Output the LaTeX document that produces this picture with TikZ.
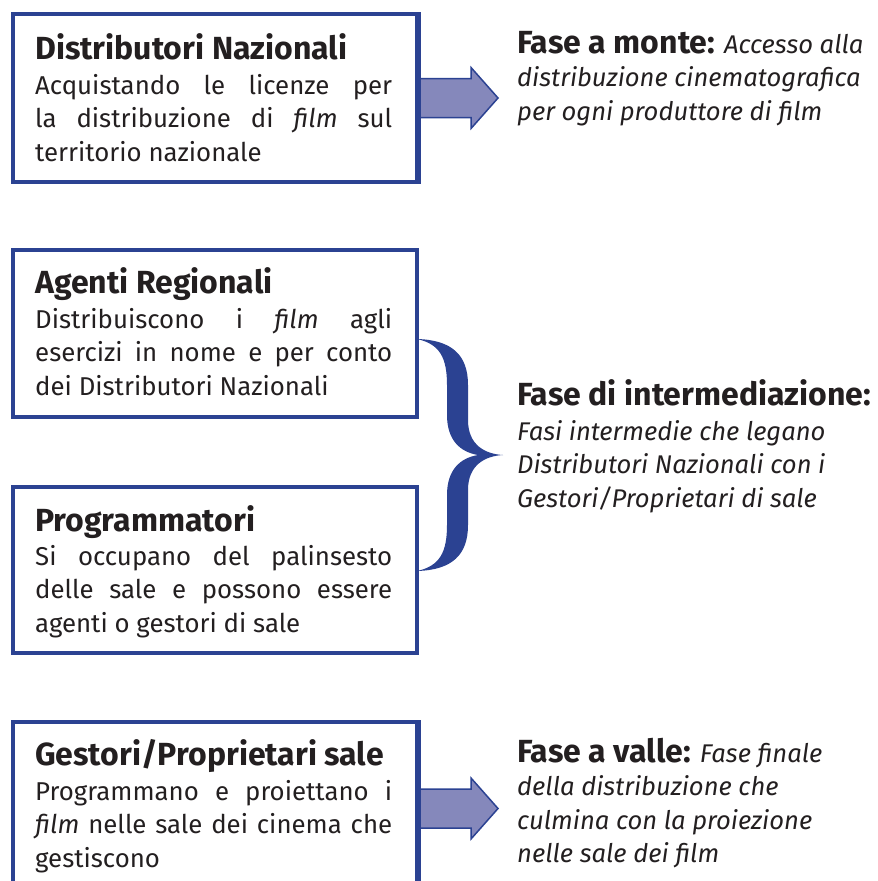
\documentclass[tikz,border=0pt]{standalone}
\usepackage{fontspec}
\setmainfont{Fira Sans}
\definecolor{bordblue}{RGB}{43,66,146}
\definecolor{arrfill}{RGB}{133,136,187}
\definecolor{ink}{RGB}{35,31,32}
\newcommand{\bodyfnt}{\fontsize{25.8}{33.5}\selectfont}
\newcommand{\italfnt}{\fontsize{25.6}{33.5}\selectfont\itshape}
\newcommand{\titlefnt}{\fontsize{32}{33}\selectfont\bfseries}
\newcommand{\jline}[1]{\hbox to 357pt{#1}}
\tikzset{
  boxst/.style={draw=bordblue, line width=4pt, fill=white, inner sep=0pt, anchor=north west, minimum width=404pt},
  titlest/.style={anchor=base west, inner sep=0pt, text=ink, font=\titlefnt},
  bodyst/.style={anchor=base west, inner sep=0pt, text=ink, font=\bodyfnt},
  italst/.style={anchor=base west, inner sep=0pt, text=ink, font=\italfnt},
  arrowst/.style={draw=bordblue, fill=arrfill, line width=1.5pt, line join=miter},
  edgest/.style={draw=bordblue, line width=4pt},
}
\begin{document}
\begin{tikzpicture}[x=1pt,y=-1pt]
\useasboundingbox[fill=white] (0,0) rectangle (878,881);
% boxes
\node[boxst, minimum height=168pt] (b1) at (11,12) {};
\node[boxst, minimum height=167pt] (b2) at (11,248) {};
\node[boxst, minimum height=166pt] (b3) at (11,485) {};
\node[boxst, minimum height=173pt] (b4) at (11,720) {};
% block arrows
\draw[arrowst] ([shift={(0,-19.5)}]b1.east) -- ++(52,0) -- ++(0,-11) -- ++(27,30.5)
  -- ++(-27,30.5) -- ++(0,-11) -- ++(-52,0) -- cycle;
\draw[arrowst] ([shift={(0,-19.5)}]b4.east) -- ++(52,0) -- ++(0,-11) -- ++(27,30.5)
  -- ++(-27,30.5) -- ++(0,-11) -- ++(-52,0) -- cycle;
\draw[edgest] (b1.north east) -- (b1.south east);
\draw[edgest] (b4.north east) -- (b4.south east);
% brace
\fill[bordblue] (417,339) .. controls (452,340) and (468,355) .. (468,385)
  -- (468,420) .. controls (468,445) and (485,454) .. (503,455)
  .. controls (485,456) and (468,465) .. (468,490)
  -- (468,525) .. controls (468,555) and (452,570) .. (417,571)
  .. controls (440,566) and (447,552) .. (447,525)
  -- (447,495) .. controls (447,470) and (460,458) .. (478,455)
  .. controls (460,452) and (447,440) .. (447,415)
  -- (447,385) .. controls (447,358) and (440,344) .. (417,339) -- cycle;
% box texts
\node[titlest] (t1) at (35,59) {Distributori Nazionali};
\node[bodyst] (d1) at (35,94) {\vtop{\jline{Acquistando le licenze per}\jline{la distribuzione di \textit{film} sul}\hbox{territorio nazionale}}};
\node[titlest] (t2) at (35,293) {Agenti Regionali};
\node[bodyst] (d2) at (35,328) {\vtop{\jline{Distribuiscono i \textit{film} agli}\jline{esercizi in nome e per conto}\hbox{dei Distributori Nazionali}}};
\node[titlest] (t3) at (35,531) {Programmatori};
\node[bodyst] (d3) at (35,565) {\vtop{\jline{Si occupano del palinsesto}\jline{delle sale e possono essere}\hbox{agenti o gestori di sale}}};
\node[titlest] (t4) at (35,765) {Gestori/Proprietari sale};
\node[bodyst] (d4) at (35,800) {\vtop{\jline{Programmano e proiettano i}\jline{\textit{film} nelle sale dei cinema che}\hbox{gestiscono}}};
% right texts
\node[italst] (r1) at (517,53) {\vtop{\hbox{{\titlefnt\upshape Fase a monte:} Accesso alla}\hbox{distribuzione cinematografica}\hbox{per ogni produttore di film}}};
\node[titlest] (r2t) at (517,405) {Fase di intermediazione:};
\node[italst] (r2) at (517,440) {\vtop{\hbox{Fasi intermedie che legano}\hbox{Distributori Nazionali con i}\hbox{Gestori/Proprietari di sale}}};
\node[italst] (r3) at (517,762) {\vtop{\hbox{{\titlefnt\upshape Fase a valle:} Fase finale}\hbox{della distribuzione che}\hbox{culmina con la proiezione}\hbox{nelle sale dei film}}};
\end{tikzpicture}
\end{document}
